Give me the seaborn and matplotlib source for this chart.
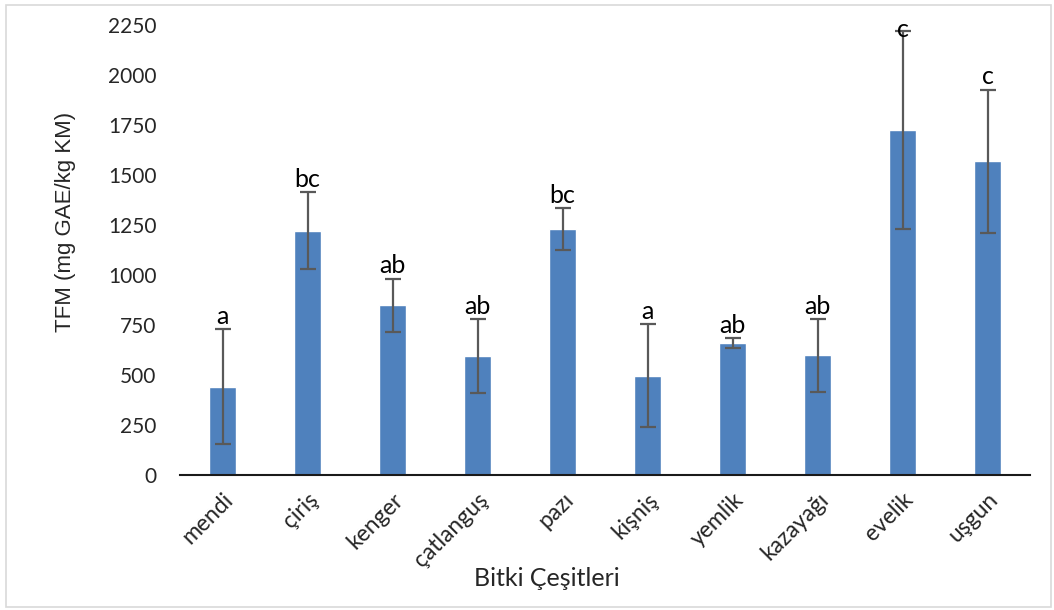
import matplotlib
matplotlib.use("Agg")
import matplotlib.pyplot as plt
from matplotlib.patches import Rectangle
import seaborn as sns
import numpy as np

# Total phenolic content per plant species
categories = ["mendi", "çiriş", "kenger", "çatlanguş", "pazı",
              "kişniş", "yemlik", "kazayağı", "evelik", "uşgun"]
means = [442, 1222, 848, 596, 1230, 497, 660, 598, 1724, 1568]
errors = [288, 192, 133, 184, 103, 256, 25, 182, 495, 358]
letters = ["a", "bc", "ab", "ab", "bc", "a", "ab", "ab", "c", "c"]
y_ticks = [0, 250, 500, 750, 1000, 1250, 1500, 1750, 2000, 2250]

sns.set_theme(style="white")
plt.rcParams["font.family"] = ["Lato", "DejaVu Sans"]

fig = plt.figure(figsize=(10.54, 6.10), dpi=100)
ax = fig.add_axes([180 / 1054, 1 - 475 / 610, 850 / 1054, 450 / 610])

sns.barplot(x=categories, y=means, color="#4F81BD", saturation=1,
            width=0.31, ax=ax, errorbar=None)

centers = [p.get_x() + p.get_width() / 2 for p in ax.patches]
ax.errorbar(centers, means, yerr=errors, fmt="none", ecolor="#595959",
            elinewidth=1.6, capsize=6, capthick=1.6, zorder=3)

# significance letters above the error bars (kept inside the plot top)
for x, m, e, lab in zip(centers, means, errors, letters):
    top = min(m + e, 2165)
    ax.annotate(lab, (x, top), xytext=(0, 1), textcoords="offset points",
                ha="center", va="bottom", fontsize=18, color="black")

ax.set_ylim(0, 2250)
ax.set_xlim(-0.5, len(categories) - 0.5)
ax.set_yticks(y_ticks)
ax.set_yticklabels([str(v) for v in y_ticks], fontsize=15)
ax.tick_params(axis="y", length=0, pad=17)
ax.tick_params(axis="x", length=0, pad=10)
for lbl in ax.get_xticklabels():
    lbl.set_rotation(45)
    lbl.set_ha("right")
    lbl.set_rotation_mode("anchor")
    lbl.set_fontsize(16.5)

for side in ["left", "top", "right"]:
    ax.spines[side].set_visible(False)
ax.spines["bottom"].set_color("#1a1a1a")
ax.spines["bottom"].set_linewidth(1.5)

ax.set_xlabel("Bitki Çeşitleri", fontsize=18)
ax.xaxis.set_label_coords(0.431, -0.229)
ax.xaxis.label.set_va("center")
ax.set_ylabel("TFM (mg GAE/kg KM)", fontsize=16,
              family=["Liberation Sans", "DejaVu Sans"])
ax.yaxis.set_label_coords(-0.135, 0.562)
ax.yaxis.label.set_va("center")

# light frame around the chart area
fig.patches.append(Rectangle((6 / 1054, 3 / 610), 1045 / 1054, 602 / 610,
                             transform=fig.transFigure, fill=False,
                             edgecolor="#d9d9d9", linewidth=1.2))

fig.savefig("out.png", dpi=100)
